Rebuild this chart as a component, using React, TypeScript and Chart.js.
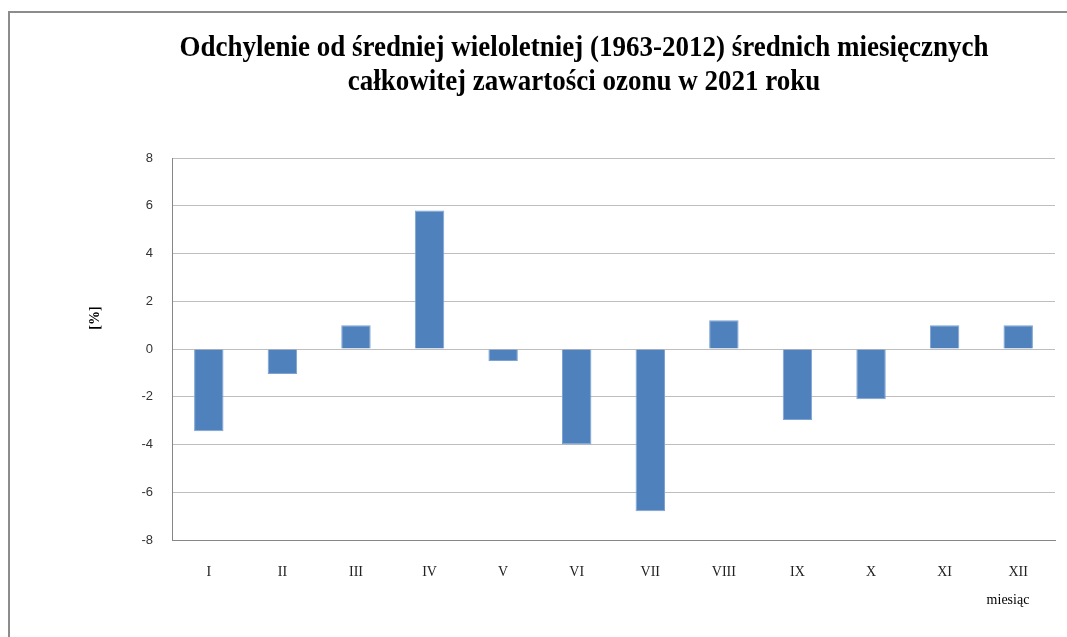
import React, { useEffect, useRef } from "react";
import { Chart, registerables } from "chart.js";

Chart.register(...registerables);

const months = ["I", "II", "III", "IV", "V", "VI", "VII", "VIII", "IX", "X", "XI", "XII"];
const deviations = [-3.45, -1.05, 1.0, 5.8, -0.5, -4.0, -6.8, 1.2, -2.97, -2.1, 1.0, 1.0];
const titleLines = [
  "Odchylenie od średniej wieloletniej (1963-2012) średnich miesięcznych",
  "całkowitej zawartości ozonu w 2021 roku",
];
const yTitle = "[%]";
const xTitle = "miesiąc";

const textPlugin = {
  id: "customTexts",
  afterDraw(chart: any) {
    const ctx = chart.ctx;
    ctx.save();
    ctx.fillStyle = "#000";
    ctx.textAlign = "center";
    ctx.textBaseline = "middle";
    ctx.font = "bold 27px 'Liberation Serif', serif";
    ctx.save();
    ctx.translate(584, 48);
    ctx.scale(1, 1.12);
    ctx.fillText(titleLines[0], 0, 0);
    ctx.restore();
    ctx.save();
    ctx.translate(584, 82);
    ctx.scale(1, 1.12);
    ctx.fillText(titleLines[1], 0, 0);
    ctx.restore();

    ctx.font = "bold 14px 'Liberation Serif', serif";
    ctx.save();
    ctx.translate(95, 318);
    ctx.rotate(-Math.PI / 2);
    ctx.fillText(yTitle, 0, 0);
    ctx.restore();

    ctx.font = "14px 'Liberation Serif', serif";
    ctx.fillText(xTitle, 1008, 600);
    ctx.restore();
  },
};

export default function App() {
  const ref = useRef<HTMLCanvasElement | null>(null);
  useEffect(() => {
    if (!ref.current) return;
    const chart = new Chart(ref.current, {
      type: "bar",
      data: {
        labels: months,
        datasets: [
          {
            data: deviations,
            backgroundColor: "#4F81BD",
            borderColor: "#7EA3D2",
            borderWidth: 1,
            categoryPercentage: 1,
            barPercentage: 0.4,
          },
        ],
      },
      options: {
        animation: false,
        responsive: false,
        maintainAspectRatio: false,
        layout: { padding: { top: 158, left: 0, right: 12, bottom: 0 } },
        plugins: {
          legend: { display: false },
          title: { display: false },
          tooltip: { enabled: false },
        },
        scales: {
          x: {
            grid: { display: false, drawTicks: false },
            border: { display: true, color: "#868686", width: 1 },
            ticks: {
              padding: 24,
              color: "#222",
              font: { family: "'Liberation Serif', serif", size: 14 },
              maxRotation: 0,
            },
            afterFit(scale: any) {
              scale.height = 97;
            },
          },
          y: {
            min: -8,
            max: 8,
            ticks: {
              stepSize: 2,
              padding: 19,
              color: "#333",
              font: { family: "'Liberation Sans', Arial, sans-serif", size: 13 },
            },
            grid: { color: "#BEBEBE", lineWidth: 1, drawTicks: false },
            border: { display: true, color: "#868686", width: 1 },
            afterFit(scale: any) {
              scale.width = 172;
            },
          },
        },
      },
      plugins: [textPlugin],
    });
    return () => chart.destroy();
  }, []);

  return (
    <div
      style={{
        position: "fixed",
        left: 0,
        top: 0,
        width: 1067,
        height: 637,
        background: "#fff",
        overflow: "hidden",
      }}
    >
      <div
        style={{
          position: "absolute",
          left: 8,
          top: 11,
          width: 1100,
          height: 700,
          borderLeft: "2px solid #8C8C8C",
          borderTop: "2px solid #8C8C8C",
          boxSizing: "border-box",
        }}
      />
      <canvas
        ref={ref}
        width={1067}
        height={637}
        style={{ position: "absolute", left: 0, top: 0, width: 1067, height: 637 }}
      />
    </div>
  );
}
